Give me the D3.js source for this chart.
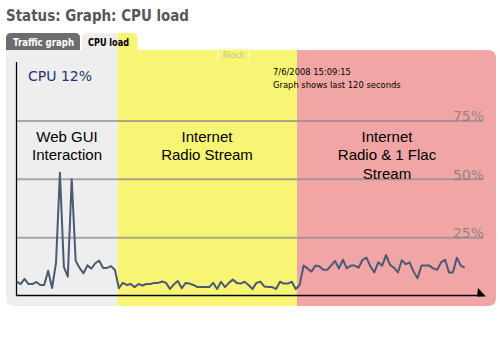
<!DOCTYPE html>
<html>
<head>
<meta charset="utf-8">
<script src="https://cdn.jsdelivr.net/npm/d3@7"></script>
<style>
	body { margin: 0; background: #fff; }
	svg { display: block; }
</style>
</head>
<body>
<div id="graphic"></div>
<script>
// CPU load samples (%), one per sample
const guiValues = [5.9, 4.9, 7.1, 4.9, 4.9, 5.8, 4.5, 4.5, 10.6, 3.2, 13.9, 52.6, 12.3, 8.1, 49.8, 14.9, 11.8, 9.5, 12.9, 11.5, 13.8, 14.9, 11.8, 11.8, 12.6, 10.9];
const radioValues = [3.1, 5.4, 4.5, 4.9, 3.6, 4.9, 4.3, 4.9, 4.9, 5.4, 5.4, 6.0, 5.4, 2.8, 4.8, 6.2, 3.1, 5.4, 5.1, 4.5, 3.6, 3.6, 3.6, 3.6, 5.4, 2.8, 5.9, 3.6, 5.4, 6.8, 5.4, 5.1, 5.9, 4.5, 2.8, 5.4, 5.9, 3.9, 3.6, 3.6, 2.8, 5.9, 5.1, 5.1, 5.9, 2.8, 4.5];
const flacValues = [12.8, 11.6, 10.2, 12.8, 12.5, 11.0, 11.0, 12.8, 14.8, 11.6, 15.3, 11.6, 12.8, 12.8, 11.9, 15.3, 16.2, 12.5, 9.9, 14.2, 12.8, 17.3, 13.1, 11.9, 9.9, 15.1, 13.4, 14.2, 10.2, 7.4, 12.8, 12.8, 12.8, 11.6, 11.0, 14.2, 15.3, 9.9, 9.9, 16.2, 12.8, 11.9];

const gridTicks = [25, 50, 75];
const tabLabels = ['Traffic graph', 'CPU load'];
const regionLabels = [
	['Web GUI', 'Interaction'],
	['Internet', 'Radio Stream'],
	['Internet', 'Radio & 1 Flac', 'Stream']
];
const regionColours = ['#eeeeee', '#f7f573', '#f2a5a5'];
const titleText = 'Status: Graph: CPU load';
const cpuText = 'CPU 12%';
const dateLines = ['7/6/2008 15:09:15', 'Graph shows last 120 seconds'];

const values = guiValues.concat(radioValues, flacValues);

const width = 500, height = 354;
const panel = { x: 6, y: 50, w: 490, h: 256 };
const plot = { left: 16.5, right: 483, top: 62, bottom: 295.5 };
const regionEdges = [panel.x, 117.5, 297, panel.x + panel.w];

const svg = d3.select('#graphic')
	.append('svg')
	.attr('width', width)
	.attr('height', height);

// page title
svg.append('text')
	.attr('x', 6)
	.attr('y', 21)
	.attr('font-family', "'DejaVu Sans', Verdana, sans-serif")
	.attr('font-weight', 'bold')
	.attr('font-size', 15.5)
	.attr('fill', '#575757')
	.attr('textLength', 183)
	.attr('lengthAdjust', 'spacingAndGlyphs')
	.text(titleText);

function tabPath(x0, x1, y0, y1, r) {
	return `M${x0},${y1}V${y0 + r}Q${x0},${y0} ${x0 + r},${y0}H${x1 - r}Q${x1},${y0} ${x1},${y0 + r}V${y1}Z`;
}

// tabs
svg.append('path')
	.attr('d', tabPath(6, 80, 33, 51, 5))
	.attr('fill', '#6d6d6d');

const panelShape = `M${panel.x},${panel.y}H${panel.x + panel.w - 8}Q${panel.x + panel.w},${panel.y} ${panel.x + panel.w},${panel.y + 8}` +
	`V${panel.y + panel.h - 8}Q${panel.x + panel.w},${panel.y + panel.h} ${panel.x + panel.w - 8},${panel.y + panel.h}` +
	`H${panel.x + 8}Q${panel.x},${panel.y + panel.h} ${panel.x},${panel.y + panel.h - 8}Z`;

const defs = svg.append('defs');
const clip = defs.append('clipPath').attr('id', 'panel-clip');
clip.append('path').attr('d', panelShape);
clip.append('path').attr('d', tabPath(82, 137.5, 33, 51, 5));

const bg = svg.append('g').attr('clip-path', 'url(#panel-clip)');
regionColours.forEach((c, i) => {
	bg.append('rect')
		.attr('x', regionEdges[i])
		.attr('y', 30)
		.attr('width', regionEdges[i + 1] - regionEdges[i])
		.attr('height', 280)
		.attr('fill', c);
});

const tabText = svg.append('g')
	.attr('font-family', "'DejaVu Sans', Verdana, sans-serif")
	.attr('font-weight', 'bold')
	.attr('font-size', 10.5);
tabText.append('text')
	.attr('x', 13).attr('y', 46)
	.attr('fill', '#fff')
	.attr('textLength', 61).attr('lengthAdjust', 'spacingAndGlyphs')
	.text(tabLabels[0]);
tabText.append('text')
	.attr('x', 88).attr('y', 46)
	.attr('fill', '#000')
	.attr('textLength', 41).attr('lengthAdjust', 'spacingAndGlyphs')
	.text(tabLabels[1]);

// faint "Block" tab
svg.append('path')
	.attr('d', 'M218,61V53Q218,49 222,49H245Q249,49 249,53V61')
	.attr('fill', 'none')
	.attr('stroke', '#fbfbc0')
	.attr('stroke-width', 1.4);
svg.append('text')
	.attr('x', 233.5).attr('y', 57.5)
	.attr('text-anchor', 'middle')
	.attr('font-family', "'DejaVu Sans', sans-serif")
	.attr('font-size', 8)
	.attr('fill', '#c4c49a')
	.text('Block');

// scales
const x = d3.scaleLinear()
	.domain([0, values.length - 1])
	.range([16.7, 464.7]);

const y = d3.scaleLinear()
	.domain([0, 100])
	.range([plot.bottom, plot.top]);

// grid lines
const grid = svg.append('g')
	.attr('class', 'grid')
	.attr('transform', `translate(${plot.left},0)`)
	.call(d3.axisLeft(y)
		.tickValues(gridTicks)
		.tickSize(-(plot.right - plot.left))
		.tickFormat(''));
grid.select('.domain').remove();
grid.selectAll('.tick line')
	.attr('stroke', '#8f8f8f')
	.attr('stroke-opacity', 0.75)
	.attr('stroke-width', 2);

svg.append('g')
	.selectAll('text')
	.data(gridTicks)
	.join('text')
	.attr('x', 484)
	.attr('y', d => y(d) + 1)
	.attr('text-anchor', 'end')
	.attr('font-family', "'DejaVu Sans', sans-serif")
	.attr('font-size', 14)
	.attr('fill', '#7a7a7a')
	.attr('fill-opacity', 0.8)
	.text(d => d + '%');

// region labels
regionLabels.forEach((lines, i) => {
	const cx = [67, 207, 387][i];
	svg.append('text')
		.attr('text-anchor', 'middle')
		.attr('font-family', "'Liberation Sans', Arial, sans-serif")
		.attr('font-size', 15)
		.attr('fill', '#000')
		.selectAll('tspan')
		.data(lines)
		.join('tspan')
		.attr('x', cx)
		.attr('y', (d, j) => 141.5 + j * 18.5)
		.text(d => d);
});

svg.append('text')
	.attr('x', 28).attr('y', 81)
	.attr('font-family', "'DejaVu Sans', Tahoma, sans-serif")
	.attr('font-size', 14)
	.attr('fill', '#27336a')
	.text(cpuText);

svg.append('g')
	.attr('font-family', "'DejaVu Sans', Tahoma, sans-serif")
	.attr('font-size', 8.4)
	.attr('fill', '#000')
	.selectAll('text')
	.data(dateLines)
	.join('text')
	.attr('x', 273)
	.attr('y', (d, i) => 75 + i * 13)
	.text(d => d);

// axes
svg.append('line')
	.attr('x1', plot.left).attr('x2', plot.left)
	.attr('y1', plot.top).attr('y2', plot.bottom)
	.attr('stroke', '#000').attr('stroke-width', 1.3);
svg.append('line')
	.attr('x1', plot.left).attr('x2', 481)
	.attr('y1', plot.bottom).attr('y2', plot.bottom)
	.attr('stroke', '#000').attr('stroke-width', 1.5);
svg.append('path')
	.attr('d', `M478,288L486,${plot.bottom + 1}L477,${plot.bottom + 1}Z`)
	.attr('fill', '#000');

// the load line
const lineGenerator = d3.line()
	.x((d, i) => x(i))
	.y(d => y(d));

svg.append('path')
	.datum(values)
	.attr('fill', 'none')
	.attr('stroke', '#4b5a74')
	.attr('stroke-width', 2)
	.attr('stroke-linejoin', 'round')
	.attr('d', lineGenerator);
</script>
</body>
</html>
